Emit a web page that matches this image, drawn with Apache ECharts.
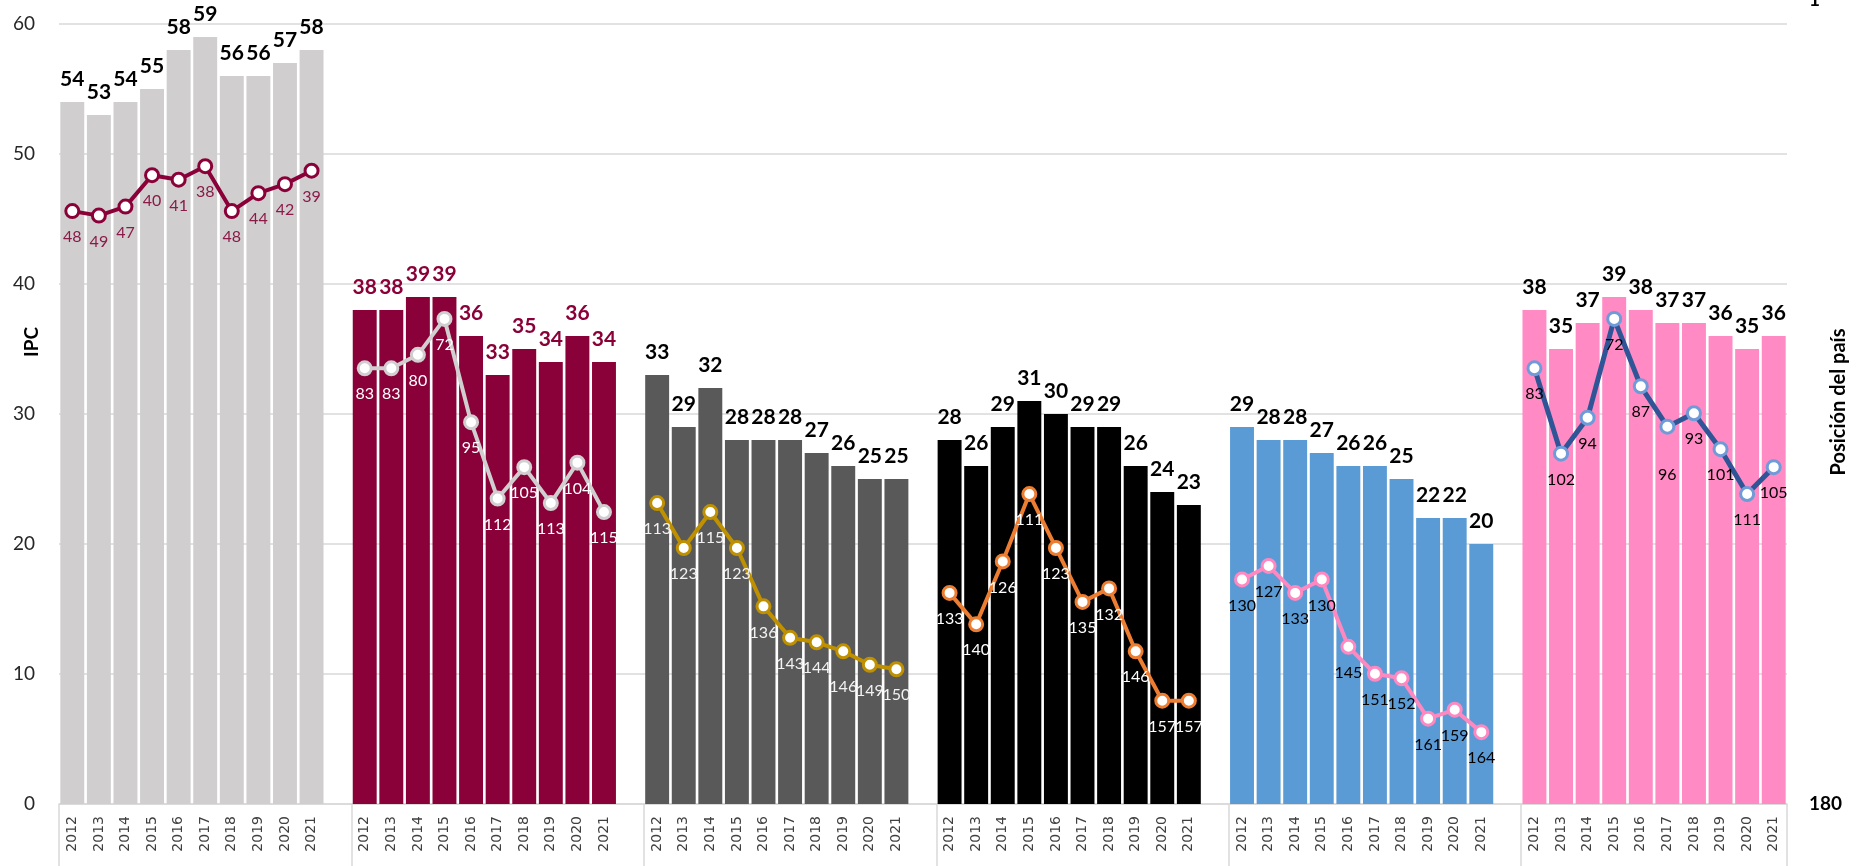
<!DOCTYPE html>
<html>
<head>
<meta charset="utf-8">
<style>
  html, body { margin: 0; padding: 0; background: #fff; }
  #chart { width: 1856px; height: 866px; }
</style>
<script src="https://cdn.jsdelivr.net/npm/echarts@6/dist/echarts.min.js"></script>
</head>
<body>
<div id="chart"></div>
<script>
const years = ['2012', '2013', '2014', '2015', '2016', '2017', '2018', '2019', '2020', '2021']

// IPC score per group (bars)
const ipc1 = [54, 53, 54, 55, 58, 59, 56, 56, 57, 58]
const ipc2 = [38, 38, 39, 39, 36, 33, 35, 34, 36, 34]
const ipc3 = [33, 29, 32, 28, 28, 28, 27, 26, 25, 25]
const ipc4 = [28, 26, 29, 31, 30, 29, 29, 26, 24, 23]
const ipc5 = [29, 28, 28, 27, 26, 26, 25, 22, 22, 20]
const ipc6 = [38, 35, 37, 39, 38, 37, 37, 36, 35, 36]

// country rank per group (lines, right axis)
const rank1 = [48, 49, 47, 40, 41, 38, 48, 44, 42, 39]
const rank2 = [83, 83, 80, 72, 95, 112, 105, 113, 104, 115]
const rank3 = [113, 123, 115, 123, 136, 143, 144, 146, 149, 150]
const rank4 = [133, 140, 126, 111, 123, 135, 132, 146, 157, 157]
const rank5 = [130, 127, 133, 130, 145, 151, 152, 161, 159, 164]
const rank6 = [83, 102, 94, 72, 87, 96, 93, 101, 111, 105]

const rankTicks = [1, 180]

const ipcGroups = [ipc1, ipc2, ipc3, ipc4, ipc5, ipc6]
const rankGroups = [rank1, rank2, rank3, rank4, rank5, rank6]

const barColors = ['#d0cece', '#8a0038', '#595959', '#000000', '#5b9bd5', '#ff8ac4']
const barLabelColors = ['#000000', '#8a0038', '#000000', '#000000', '#000000', '#000000']
const lineColors = ['#8a0038', '#d0cece', '#bf9000', '#ed7d31', '#ff88c0', '#2f5597']
const markerBorders = ['#8a0038', '#d0cece', '#bf9000', '#ed7d31', '#ff88c0', '#6f9bd8']
const lineLabelColors = ['#8a1a48', '#ffffff', '#f2f2f2', '#ffffff', '#000000', '#000000']
// a few rank labels sit lower than the rest
const labelNudge = { '2-7': 10, '5-5': 22 }

const FONT = 'Lato, "Open Sans", sans-serif'
const SLOT = years.length + 1

function buildOption() {
  const categories = []
  const barData = []
  ipcGroups.forEach((g, i) => {
    g.forEach((v, j) => {
      categories.push(years[j])
      barData.push({
        value: v,
        itemStyle: { color: barColors[i] },
        label: { color: barLabelColors[i] },
      })
    })
    if (i < ipcGroups.length - 1) {
      categories.push('')
      barData.push('-')
    }
  })

  const lineSeries = rankGroups.map((g, i) => {
    const data = categories.map(() => '-')
    g.forEach((v, j) => {
      const nudge = labelNudge[i + '-' + j]
      data[i * SLOT + j] = nudge ? { value: v, label: { offset: [0, nudge] } } : v
    })
    return {
      type: 'line',
      yAxisIndex: 1,
      data,
      z: 5,
      symbol: 'circle',
      symbolSize: 13,
      lineStyle: { color: lineColors[i], width: i === 5 ? 5 : 4 },
      itemStyle: { color: '#ffffff', borderColor: markerBorders[i], borderWidth: 3 },
      label: {
        show: true,
        position: 'bottom',
        distance: 10,
        color: lineLabelColors[i],
        fontSize: 16,
        fontFamily: FONT,
      },
      emphasis: { disabled: true },
    }
  })

  return {
    backgroundColor: '#ffffff',
    animation: false,
    grid: { left: 59, right: 69, top: 0, bottom: 62, outerBoundsMode: 'none', containLabel: false },
    xAxis: {
      type: 'category',
      data: categories,
      axisLine: { lineStyle: { color: '#d9d9d9', width: 1.5 } },
      axisTick: {
        show: true,
        interval: (idx) => idx % SLOT === 0,
        length: 62,
        lineStyle: { color: '#d9d9d9', width: 1.5 },
      },
      axisLabel: {
        interval: 0,
        rotate: 90,
        margin: 12,
        color: '#404040',
        fontSize: 14,
        fontFamily: '"DejaVu Sans", sans-serif',
      },
    },
    yAxis: [
      {
        type: 'value',
        min: 0,
        max: 804 / 13,
        interval: 10,
        axisLine: { show: false },
        axisTick: { show: false },
        axisLabel: {
          showMaxLabel: false,
          margin: 24,
          color: '#262626',
          fontSize: 19,
          fontFamily: FONT,
        },
        splitLine: { showMaxLine: false, lineStyle: { color: '#d9d9d9', width: 1.5 } },
      },
      {
        type: 'value',
        position: 'right',
        inverse: true,
        min: 1,
        max: 180,
        axisLine: { show: false },
        axisTick: { show: false },
        splitLine: { show: false },
        axisLabel: {
          customValues: rankTicks,
          margin: 22,
          verticalAlign: 'middle',
          color: '#000000',
          fontSize: 19,
          fontWeight: 'bold',
          fontFamily: FONT,
        },
        name: 'Posición del país',
        nameLocation: 'middle',
        nameRotate: 90,
        nameGap: 42,
        nameMoveOverlap: false,
        nameTextStyle: { color: '#000000', fontSize: 20, fontWeight: 'bold', fontFamily: FONT },
      },
    ],
    graphic: [
      {
        type: 'text',
        x: 32,
        y: 342,
        rotation: Math.PI / 2,
        style: {
          text: 'IPC',
          align: 'center',
          verticalAlign: 'middle',
          fill: '#000000',
          fontSize: 19,
          fontWeight: 'bold',
          fontFamily: FONT,
        },
      },
    ],
    series: [
      {
        type: 'bar',
        data: barData,
        barCategoryGap: '10%',
        label: {
          show: true,
          position: 'top',
          distance: 12,
          fontSize: 21,
          fontWeight: 'bold',
          fontFamily: FONT,
        },
        emphasis: { disabled: true },
      },
      ...lineSeries,
    ],
  }
}

const chart = echarts.init(document.getElementById('chart'))
chart.setOption(buildOption())
</script>
</body>
</html>
